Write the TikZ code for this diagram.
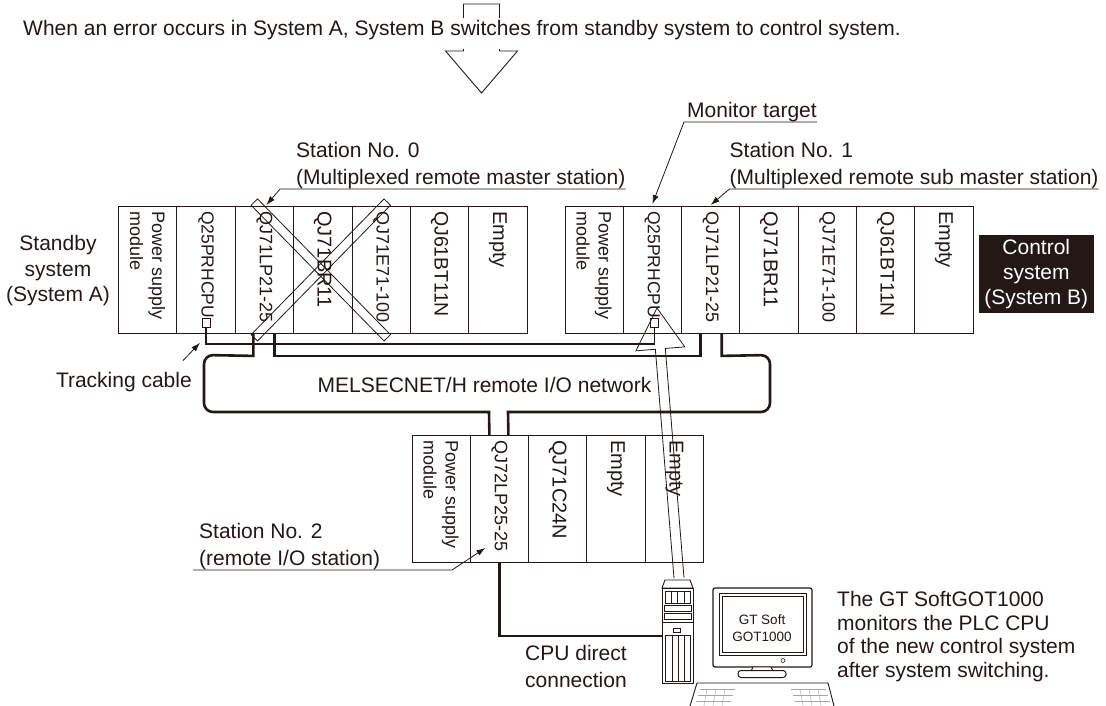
\documentclass[tikz,border=0pt]{standalone}
\usepackage{fontspec}
\setmainfont{Liberation Sans}
\usepackage{tikz}
\usetikzlibrary{arrows.meta, positioning}
\definecolor{ink}{HTML}{231815}

\begin{document}
\begin{tikzpicture}[x=1pt, y=-1pt, ink, text=ink,
  slot/.style={draw, line width=0.9pt, minimum width=58.3pt, minimum height=127pt, inner sep=0pt, anchor=north west},
  modtxt/.style={rotate=-90, anchor=west, inner sep=0pt, align=left},
  lbl/.style={inner sep=0pt, align=left, font=\fontsize{21}{27}\selectfont},
  leader/.style={line width=0.8pt, -{Latex[length=9pt,width=6pt]}},
  net/.style={line width=2.6pt},
  trackline/.style={line width=1.8pt},
  port/.style={draw, fill=white, line width=0.8pt, minimum width=8pt, minimum height=9pt, inner sep=0pt},
  xbar/.style={draw, line width=0.8pt, minimum width=190pt, minimum height=9pt, inner sep=0pt},
]
\useasboundingbox (0,0) rectangle (1106,706);

% switching arrow behind the headline
\draw[line width=0.9pt] (463.5,4) -- (499.5,4) -- (499.5,51) -- (517.5,51) -- (481.5,93) -- (445.5,51) -- (463.5,51) -- cycle;
\node[lbl, anchor=base west, fill=white, text height=18pt, text depth=13pt] (head) at (23,36)
  {When an error occurs in System A, System B switches from standby system to control system.};

% System A rack (standby)
\foreach \i/\txt/\fs in {1/{Power supply\\module}/18, 2/Q25PRHCPU/17.5, 3/QJ71LP21-25/18, 4/QJ71BR11/20,
                         5/QJ71E71-100/18, 6/QJ61BT11N/19.5, 7/Empty/20} {
  \node[slot] (sA\i) at ({118+58.4*(\i-1)},206) {};
  \node[modtxt, font=\fontsize{\fs}{22}\selectfont] at ([yshift=-5pt]sA\i.north) {\txt};
}
% System B rack (control)
\foreach \i/\txt/\fs in {1/{Power supply\\module}/18, 2/Q25PRHCPU/17.5, 3/QJ71LP21-25/18, 4/QJ71BR11/20,
                         5/QJ71E71-100/18, 6/QJ61BT11N/19.5, 7/Empty/20} {
  \node[slot] (sB\i) at ({564.5+58.3*(\i-1)},206) {};
  \node[modtxt, font=\fontsize{\fs}{22}\selectfont] at ([yshift=-5pt]sB\i.north) {\txt};
}
% remote I/O station rack
\foreach \i/\txt/\fs in {1/{Power supply\\module}/18, 2/QJ72LP25-25/18, 3/QJ71C24N/20, 4/Empty/20, 5/Empty/20} {
  \node[slot] (sR\i) at ({411.5+58.3*(\i-1)},435) {};
  \node[modtxt, font=\fontsize{\fs}{22}\selectfont] at ([yshift=-5pt]sR\i.north) {\txt};
}

% failed modules crossed out
\node[xbar, rotate=-45.6] at ([xshift=-2pt]sA4.center) {};
\node[xbar, rotate=45.6] at ([xshift=-2pt]sA4.center) {};

% system labels
\node[lbl, align=center, font=\fontsize{21}{25.5}\selectfont] (sysA) at (58,271) {Standby\\system\\(System A)};
\node[lbl, align=center, fill=ink, text=white, minimum width=115.4pt, minimum height=78pt,
      font=\fontsize{21}{25}\selectfont] (sysB) at (1036.3,274) {Control\\system\\(System B)};

% station labels
\node[lbl, anchor=south west] (st0) at (296,189) {Station No. 0\\(Multiplexed remote master station)};
\draw[leader] (st0.south east) -- ([xshift=-16pt]st0.south west) -- ([xshift=2pt,yshift=1pt]sA3.north);
\node[lbl, anchor=south west] (st1) at (729.5,189) {Station No. 1\\(Multiplexed remote sub master station)};
\draw[leader] (st1.south east) -- (st1.south west) -- ([yshift=1pt]sB3.north);
\node[lbl, anchor=south west] (mtg) at (687,122) {Monitor target};
\draw[leader] (mtg.south east) -- ([xshift=-3pt]mtg.south west) -- ([yshift=2pt]sB2.north);
\node[lbl, anchor=south west] (st2) at (199,570) {Station No. 2\\(remote I/O station)};
\draw[leader] ([xshift=-6pt]st2.south west) -- ++(259,0) -- ([xshift=-14pt,yshift=15pt]sR2.south);

% tracking cable between the CPUs
\node[port] (tqA) at ([yshift=11pt]sA2.south) {};
\node[port] (tqB) at ([xshift=2pt,yshift=11pt]sB2.south) {};
\draw[trackline] (tqA.south) -- ++(0,16.5) -| (tqB.south);
\node[lbl, anchor=base east] (trk) at (192,387) {Tracking cable};
\draw[leader] ([xshift=-9pt,yshift=11pt]trk.north east) -- ([xshift=-6pt,yshift=-15pt]tqA.south);

% MELSECNET/H ring
\draw[net] ([xshift=-11pt]sA3.south) -- ++(0,22) [rounded corners=9pt] -- (204,355) -- (204,412) [sharp corners] -- (489,412) -- ([xshift=-10pt]sR2.north);
\draw[net] ([xshift=11pt]sB3.south) -- ++(0,22) [rounded corners=9pt] -- (770,355) -- (770,412) [sharp corners] -- (508,412) -- ([xshift=9pt]sR2.north);
\draw[net] ([xshift=10pt]sA3.south) -- ++(0,22) -| ([xshift=-10pt]sB3.south);
\node[lbl] (netlbl) at (484.5,385) {MELSECNET/H remote I/O network};

% personal computer
\draw[line width=0.9pt, fill=white] (665,580) -- (690,580) -- (693,588) -- (662,588) -- cycle;
\node[draw, line width=0.9pt, minimum width=31pt, minimum height=95pt, inner sep=0pt, anchor=north west] (tower) at (662,588) {};
\draw[line width=0.7pt] (665,591) rectangle (690,603);
\foreach \x in {671,677,684} \draw[line width=0.6pt] (\x,591) -- (\x,603);
\draw[line width=0.7pt] (664,605) rectangle (691,611) (664,613) rectangle (691,619);
\draw[line width=0.7pt] (662,622) -- (693,622);
\draw[line width=0.6pt] (673,628) rectangle (680,632);
\draw[line width=0.7pt] (665,635) rectangle (690,681);
\foreach \x in {672,678,684} \draw[line width=0.6pt] (\x,635) -- (\x,681);
\draw[net] (sR2.south) |- (tower.west);
\node[lbl, anchor=north west] (cpu) at (525,645) {CPU direct\\connection};

% monitor and keyboard
\draw[line width=1.2pt, rounded corners=2pt, fill=white] (713,588) rectangle (812,667);
\draw[line width=0.8pt] (719,593) rectangle (806,655);
\draw[line width=0.6pt] (722,596) rectangle (803,652);
\node[align=center, inner sep=0pt, font=\fontsize{13.5}{17}\selectfont] (scr) at (762,628) {GT Soft\\GOT1000};
\draw[line width=0.6pt] (783,660.5) circle (2pt);
\draw[line width=0.9pt, fill=white] (753,667) -- (771,667) -- (773,671) -- (751,671) -- cycle;
\draw[line width=1pt, rounded corners=3pt, fill=white] (738,670.5) rectangle (786,677.5);
\draw[line width=0.9pt] (690,706) -- (697,683) -- (828,683) -- (834,706);
\foreach \y/\d in {689/0, 695/2, 701/4} {
  \draw[gray!70, line width=0.4pt] (700-\d,\y) -- (735-\d,\y) (791+\d,\y) -- (826+\d,\y);
}
\foreach \x in {707,716,725} \draw[gray!70, line width=0.4pt] (\x,689) -- (\x-3,706);
\foreach \x in {800,809,818} \draw[gray!70, line width=0.4pt] (\x,689) -- (\x+3,706);
\node[lbl, anchor=north west, font=\fontsize{21}{23.5}\selectfont] (note) at (837,591.5)
  {The GT SoftGOT1000\\monitors the PLC CPU\\of the new control system\\after system switching.};

% hollow arrow from the PC up to the monitored CPU
\draw[line width=0.8pt] (683.98,577.59) -- (665.31,348.45) -- (684.75,346.87) -- (657,308)
  -- (635.91,350.85) -- (655.35,349.27) -- (674.02,578.41);
\end{tikzpicture}
\end{document}
